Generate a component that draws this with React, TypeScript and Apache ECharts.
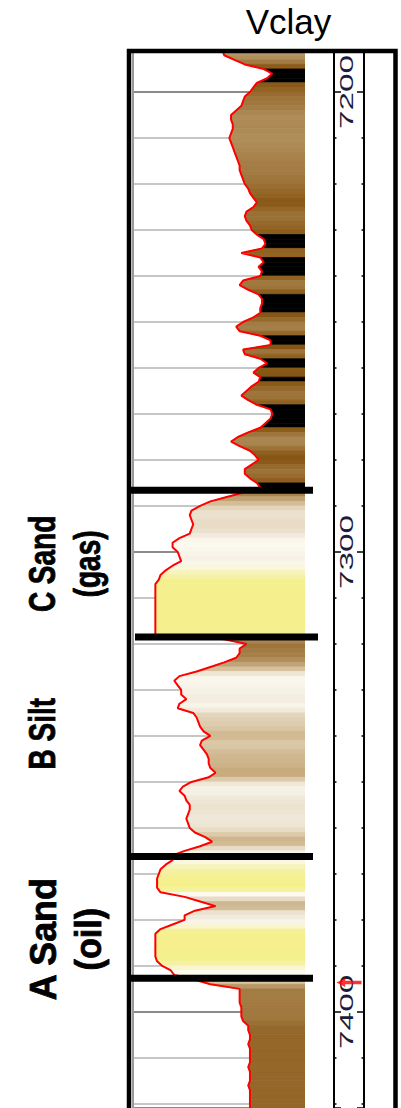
import React, { useEffect, useRef } from 'react';
import * as echarts from 'echarts';

// ---------- data ----------
const TITLE = 'Vclay';
const FIRST_DEPTH = 7191; // ft, 1 ft sampling
// Vclay (fraction) read every 1 ft from 7191 to 7421
const VCLAY: number[] = [
  0.52, 0.53, 0.59, 0.65, 0.76, 0.81, 0.78, 0.72, 0.70, 0.68, // 7191-7200
  0.65, 0.64, 0.63, 0.60, 0.57, 0.57, 0.58, 0.58, 0.57, 0.56, // 7201-7210
  0.57, 0.58, 0.59, 0.60, 0.61, 0.62, 0.62, 0.63, 0.64, 0.65, // 7211-7220
  0.67, 0.68, 0.70, 0.72, 0.70, 0.66, 0.65, 0.66, 0.68, 0.69, // 7221-7230
  0.72, 0.76, 0.77, 0.75, 0.63, 0.74, 0.76, 0.73, 0.75, 0.74, // 7231-7240
  0.64, 0.62, 0.67, 0.73, 0.75, 0.75, 0.74, 0.74, 0.70, 0.64, // 7241-7250
  0.60, 0.62, 0.74, 0.80, 0.80, 0.64, 0.65, 0.74, 0.78, 0.73, // 7251-7260
  0.70, 0.74, 0.73, 0.69, 0.66, 0.63, 0.67, 0.72, 0.80, 0.81, // 7261-7270
  0.80, 0.77, 0.74, 0.67, 0.61, 0.57, 0.62, 0.68, 0.71, 0.73, // 7271-7280
  0.69, 0.65, 0.65, 0.68, 0.72, 0.74, 0.65, 0.55, 0.45, 0.39, // 7281-7290
  0.34, 0.33, 0.34, 0.35, 0.34, 0.33, 0.27, 0.23, 0.23, 0.26, // 7291-7300
  0.27, 0.28, 0.23, 0.19, 0.16, 0.15, 0.13, 0.13, 0.13, 0.13, // 7301-7310
  0.13, 0.13, 0.13, 0.13, 0.13, 0.13, 0.13, 0.13, 0.53, 0.66, // 7311-7320
  0.62, 0.62, 0.60, 0.53, 0.45, 0.37, 0.27, 0.24, 0.26, 0.28, // 7321-7330
  0.28, 0.31, 0.27, 0.26, 0.35, 0.37, 0.38, 0.39, 0.41, 0.45, // 7331-7340
  0.40, 0.39, 0.41, 0.43, 0.44, 0.44, 0.45, 0.48, 0.44, 0.34, // 7341-7350
  0.29, 0.27, 0.30, 0.31, 0.33, 0.33, 0.32, 0.31, 0.32, 0.33, // 7351-7360
  0.36, 0.42, 0.46, 0.39, 0.30, 0.23, 0.23, 0.19, 0.16, 0.15, // 7361-7370
  0.14, 0.14, 0.14, 0.16, 0.30, 0.39, 0.48, 0.36, 0.30, 0.30, // 7371-7380
  0.23, 0.16, 0.13, 0.13, 0.13, 0.13, 0.13, 0.13, 0.14, 0.17, // 7381-7390
  0.22, 0.24, 0.36, 0.45, 0.62, 0.62, 0.62, 0.62, 0.63, 0.63, // 7391-7400
  0.63, 0.64, 0.67, 0.67, 0.68, 0.68, 0.67, 0.68, 0.68, 0.68, // 7401-7410
  0.68, 0.67, 0.68, 0.68, 0.68, 0.67, 0.68, 0.68, 0.68, 0.68, 0.68, // 7411-7421
];
const DEPTH: number[] = VCLAY.map((_, i) => FIRST_DEPTH + i);

const DEPTH_MIN = 7191.3;
const DEPTH_MAX = 7420.9;
const DEPTH_LABELS = [7200, 7300, 7400];

// formation tops (ft)
const TOPS_DEPTH = [7286.6, 7318.5, 7366.2, 7392.7];
// zone labels: [label line 1, label line 2, depth of label centre]
const ZONE_LINE1 = ['C Sand', 'B Silt', 'A Sand'];
const ZONE_LINE2 = ['(gas)', '', '(oil)'];
const ZONE_DEPTH = [7302.6, 7339.5, 7384.2];

// red marker in depth track
const MARKER_DEPTH = 7393.6;

// ---------- styles ----------
const TOP_SHIFT = [0, 5, 0, 0];
const ZONE_STRETCH1 = [1.0, 1.0, 1.28];
const ZONE_STRETCH2 = [1.0, 1.0, 1.22];
const BLACK_AT = 0.725;
const COLOR_STOPS: [number, string][] = [
  [0.0, '#F4EE86'],
  [0.14, '#F5F08E'],
  [0.18, '#F7F3C4'],
  [0.23, '#FCFAEE'],
  [0.28, '#F6F1E6'],
  [0.33, '#ECE2D0'],
  [0.39, '#DCCAAA'],
  [0.46, '#C8AC80'],
  [0.53, '#B89868'],
  [0.59, '#AA8650'],
  [0.65, '#9C7238'],
  [0.7, '#8E5E1C'],
  [0.725, '#845414'],
];
const FONT = "'Liberation Sans', Arial, sans-serif";

function hex(c: string): number[] {
  return [1, 3, 5].map((k) => parseInt(c.slice(k, k + 2), 16));
}
function colorFor(v: number): string {
  if (v >= BLACK_AT) return '#000000';
  if (v <= COLOR_STOPS[0][0]) return COLOR_STOPS[0][1];
  for (let i = 0; i < COLOR_STOPS.length - 1; i++) {
    const [a, ca] = COLOR_STOPS[i];
    const [b, cb] = COLOR_STOPS[i + 1];
    if (v >= a && v <= b) {
      const t = (v - a) / (b - a);
      const x = hex(ca);
      const y = hex(cb);
      const m = x.map((q, k) => Math.round(q + (y[k] - q) * t));
      return `rgb(${m[0]},${m[1]},${m[2]})`;
    }
  }
  return COLOR_STOPS[COLOR_STOPS.length - 1][1];
}

export default function App() {
  const ref = useRef<HTMLDivElement>(null);
  useEffect(() => {
    if (!ref.current) return;
    const chart = echarts.init(ref.current, null, { renderer: 'svg' });

    const fillData = VCLAY.slice(0, -1).map((v, i) => [VCLAY[i], DEPTH[i], VCLAY[i + 1], DEPTH[i + 1]]);
    const lineData = VCLAY.map((v, i) => [v, DEPTH[i]]);

    const depthAxisCommon = {
      type: 'value',
      inverse: true,
      min: DEPTH_MIN,
      max: DEPTH_MAX,
      splitNumber: 2,
      minInterval: 100,
      maxInterval: 100,
      axisLabel: { show: false },
    };

    chart.setOption({
      animation: false,
      backgroundColor: '#ffffff',
      textStyle: { fontFamily: FONT },
      grid: [
        { left: 133, top: 52, width: 172, height: 1056 },
        { left: 334, top: 52, width: 30, height: 1056 },
      ],
      xAxis: [
        { gridIndex: 0, type: 'value', min: 0, max: 1, show: false },
        { gridIndex: 1, type: 'value', min: 0, max: 1, show: false },
      ],
      yAxis: [
        {
          ...depthAxisCommon,
          gridIndex: 0,
          position: 'left',
          axisLine: { show: true, onZero: false, lineStyle: { color: '#9a9a9a', width: 2 } },
          axisTick: { show: false },
          splitLine: { show: true, lineStyle: { color: '#8a8a8a', width: 2 } },
          minorTick: { show: false, splitNumber: 10 },
          minorSplitLine: { show: true, lineStyle: { color: '#c6c6c6', width: 2 } },
        },
        {
          ...depthAxisCommon,
          gridIndex: 1,
          position: 'left',
          axisLine: { show: true, onZero: false, lineStyle: { color: '#000', width: 2 } },
          axisTick: { show: true, inside: true, length: 7, lineStyle: { color: '#000', width: 1.5 } },
          minorTick: { show: true, splitNumber: 10, length: 2.5, lineStyle: { color: '#000', width: 1.5 } },
          splitLine: { show: false },
        },
        {
          ...depthAxisCommon,
          gridIndex: 1,
          position: 'right',
          axisLine: { show: true, onZero: false, lineStyle: { color: '#000', width: 2 } },
          axisTick: { show: true, inside: true, length: 7, lineStyle: { color: '#000', width: 1.5 } },
          minorTick: { show: true, splitNumber: 10, length: 2.5, lineStyle: { color: '#000', width: 1.5 } },
          splitLine: { show: false },
        },
      ],
      series: [
        {
          type: 'custom',
          name: 'fill',
          xAxisIndex: 0,
          yAxisIndex: 0,
          z: 2,
          clip: true,
          data: fillData,
          encode: { x: [0, 2], y: [1, 3] },
          renderItem: (params: any, api: any) => {
            const v0 = api.value(0);
            const d0 = api.value(1);
            const v1 = api.value(2);
            const d1 = api.value(3);
            const p0 = api.coord([v0, d0]);
            const p1 = api.coord([v1, d1]);
            const r1 = api.coord([1, d1]);
            const r0 = api.coord([1, d0]);
            const c = colorFor((v0 + v1) / 2);
            return {
              type: 'polygon',
              shape: { points: [p0, p1, r1, r0] },
              style: { fill: c, stroke: c, lineWidth: 0.8 },
            };
          },
        },
        {
          type: 'line',
          name: 'Vclay',
          xAxisIndex: 0,
          yAxisIndex: 0,
          z: 3,
          data: lineData,
          symbol: 'none',
          lineStyle: { color: '#ff0000', width: 2 },
        },
        {
          type: 'custom',
          name: 'tops',
          xAxisIndex: 0,
          yAxisIndex: 0,
          z: 5,
          clip: false,
          data: TOPS_DEPTH.map((d, i) => [0, d, i]),
          encode: { x: 0, y: 1 },
          renderItem: (params: any, api: any) => {
            const d = api.value(1);
            const i = api.value(2);
            const a = api.coord([0, d]);
            const b = api.coord([1, d]);
            const s = TOP_SHIFT[i] || 0;
            return {
              type: 'line',
              shape: { x1: a[0] - 3 + s, y1: a[1], x2: b[0] + 8 + s, y2: b[1] },
              style: { stroke: '#000', lineWidth: 7 },
            };
          },
        },
        {
          type: 'scatter',
          name: 'marker',
          xAxisIndex: 1,
          yAxisIndex: 1,
          z: 6,
          data: [[0.5, MARKER_DEPTH]],
          symbol: 'path://M0,5 L9,0 L9,3 L26,3 L26,7 L9,7 L9,10 Z',
          symbolSize: [25, 9],
          itemStyle: { color: '#ff0000' },
        },
      ],
    });

    const yPx = (d: number) => chart.convertToPixel({ yAxisIndex: 1 }, d) as number;
    const trackMid = ((chart.convertToPixel({ xAxisIndex: 1 }, 0) as number) + (chart.convertToPixel({ xAxisIndex: 1 }, 1) as number)) / 2;

    const elements: any[] = [
      {
        type: 'text',
        x: 288.5,
        y: 21,
        style: { text: TITLE, fontSize: 35, fontFamily: FONT, fill: '#000', align: 'center', verticalAlign: 'middle' },
        z: 20,
      },
      {
        type: 'rect',
        shape: { x: 129, y: 51, width: 266.5, height: 1200 },
        style: { fill: 'none', stroke: '#000', lineWidth: 4.5 },
        z: 15,
      },
    ];
    DEPTH_LABELS.forEach((d) => {
      elements.push({
        type: 'text',
        x: trackMid - 2,
        y: yPx(d),
        rotation: Math.PI / 2,
        scaleX: 1.85,
        style: { text: String(d), fontSize: 18, fontFamily: FONT, fill: '#1c1c3c', align: 'center', verticalAlign: 'middle' },
        z: 4,
      });
    });
    ZONE_LINE1.forEach((t, i) => {
      const y = yPx(ZONE_DEPTH[i]);
      elements.push({
        type: 'text',
        x: 43,
        y,
        rotation: Math.PI / 2,
        scaleX: ZONE_STRETCH1[i],
        scaleY: 1.3,
        style: { text: t, fontSize: 28, fontWeight: 'bold', fontFamily: FONT, fill: '#000', align: 'center', verticalAlign: 'middle', stroke: '#000', lineWidth: 0.6 },
        z: 20,
      });
      if (ZONE_LINE2[i]) {
        elements.push({
          type: 'text',
          x: 88,
          y,
          rotation: Math.PI / 2,
          scaleX: ZONE_STRETCH2[i],
          scaleY: 1.3,
          style: { text: ZONE_LINE2[i], fontSize: 28, fontWeight: 'bold', fontFamily: FONT, fill: '#000', align: 'center', verticalAlign: 'middle', stroke: '#000', lineWidth: 0.6 },
          z: 20,
        });
      }
    });
    chart.setOption({ graphic: { elements } });

    return () => chart.dispose();
  }, []);
  return <div ref={ref} style={{ position: 'absolute', left: 0, top: 0, width: 401, height: 1108 }} />;
}
